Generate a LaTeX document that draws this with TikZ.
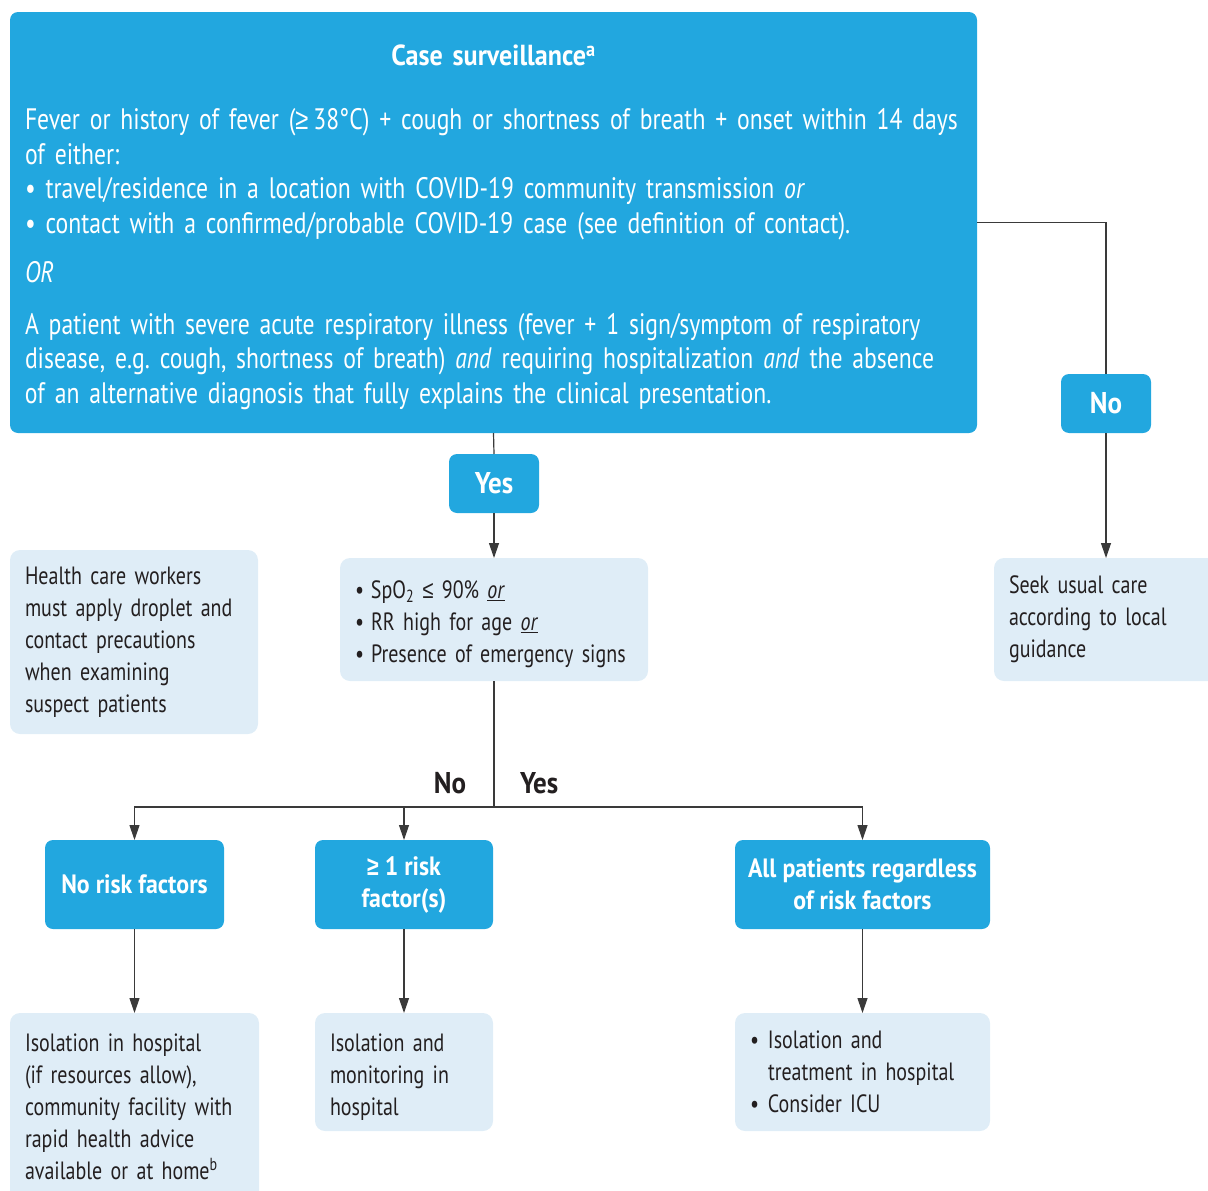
\documentclass[tikz,border=0pt]{standalone}
\usepackage{fontspec}
\setmainfont{PT Sans}[FakeStretch=0.80, BoldFeatures={FakeStretch=0.90}]
\newfontfamily\symfont{Liberation Sans}[FakeStretch=0.80]
\usepackage{tikz}
\usetikzlibrary{arrows.meta,positioning}
\definecolor{caseblue}{HTML}{22A7DF}
\definecolor{palebox}{HTML}{DFEDF7}
\definecolor{inkdark}{HTML}{231F20}
\definecolor{linegray}{HTML}{3A3A3A}
\newcommand{\bul}{\makebox[16pt][l]{\textbullet}}
\newcommand{\bulgap}{\hspace*{18pt}}
\newcommand{\geqsym}{{\symfont ≥}}
\newcommand{\leqsym}{{\symfont ≤}}
\frenchspacing

\begin{document}
\begin{tikzpicture}[
  x=1pt, y=-1pt,
  every node/.style={inner sep=0pt, outer sep=0pt},
  big/.style={fill=caseblue, text=white, rounded corners=8pt, align=left,
              inner xsep=15pt, font=\fontsize{29.6}{34.5}\selectfont},
  head/.style={fill=caseblue, text=white, rounded corners=8pt, align=center,
               font=\bfseries\fontsize{26.5}{32}\selectfont},
  pale/.style={fill=palebox, text=inkdark, rounded corners=10pt, align=left,
               inner xsep=15pt, font=\fontsize{25}{32}\selectfont},
  lbl/.style={text=inkdark, font=\bfseries\fontsize{30}{34}\selectfont},
  ln/.style={line width=1.2pt, draw=linegray},
  arr/.style={ln, -{Triangle[length=15pt, width=10pt]}},
]
  \useasboundingbox (0,0) rectangle (1208,1191);

  % top: case definition
  \node[big, text width=937pt, minimum height=421pt] (surv) at (493.5,222.5) {%
    \makebox[\linewidth][c]{\rule{0pt}{30pt}\bfseries\fontsize{29}{34.5}\selectfont Case surveillance\textsuperscript{a}}\\[30pt]
    Fever or history of fever (\geqsym\,38°C) + cough or shortness of breath + onset within 14 days\\
    of either:\\
    \textbullet\ travel/residence in a location with COVID-19 community transmission \textit{or}\\
    \textbullet\ contact with a confirmed/probable COVID-19 case (see definition of contact).\\[14.5pt]
    \textit{OR}\\[17.5pt]
    A patient with severe acute respiratory illness (fever + 1 sign/symptom of respiratory\\
    disease, e.g. cough, shortness of breath) \textit{and} requiring hospitalization \textit{and} the absence\\
    of an alternative diagnosis that fully explains the clinical presentation.};

  \node[head, minimum width=90pt, minimum height=59pt, font=\bfseries\fontsize{30}{34}\selectfont] (yes) at (494,483.5) {Yes};
  \node[head, minimum width=90pt, minimum height=59pt, font=\bfseries\fontsize{30}{34}\selectfont] (no) at (1106,403.5) {No};

  % middle row
  \node[pale, text width=218pt, minimum height=184pt] (note) at (134,642) {%
    Health care workers\\ must apply droplet and\\ contact precautions\\ when examining\\ suspect patients};
  \node[pale, text width=278pt, minimum height=123pt] (crit) at (494,619.5) {%
    \rule{0pt}{28pt}\bul SpO\textsubscript{2} \leqsym\ 90\% \underline{\textit{or}}\\
    \bul RR high for age \underline{\textit{or}}\\
    \bul Presence of emergency signs};
  \node[pale, text width=196pt, minimum height=123pt] (seek) at (1107,619.5) {%
    Seek usual care\\ according to local\\ guidance};

  \node[lbl, anchor=east] (nolbl) at (466,783) {No};
  \node[lbl, anchor=west] (yeslbl) at (520,783) {Yes};
  \coordinate (split) at (494,807);

  % risk groups
  \node[head, minimum width=179pt, minimum height=89pt] (norisk) at (134.5,884.5) {No risk factors};
  \node[head, minimum width=178pt, minimum height=89pt] (onerisk) at (404,884.5) {\geqsym\ 1 risk\\ factor(s)};
  \node[head, minimum width=255pt, minimum height=89pt] (allpat) at (862.5,884.5) {All patients regardless\\ of risk factors};

  % outcomes
  \node[pale, text width=219pt, minimum height=188pt] (homecare) at (134.5,1107) {%
    Isolation in hospital\\ (if resources allow),\\ community facility with\\ rapid health advice\\ available or at home\textsuperscript{b}};
  \node[pale, text width=148pt, minimum height=118pt] (monitor) at (404,1072) {%
    \rule{0pt}{28pt}Isolation and\\ monitoring in\\ hospital};
  \node[pale, text width=225pt, minimum height=118pt] (treat) at (862.5,1072) {%
    \makebox[18pt][l]{\textbullet}Isolation and\\ \bulgap treatment in hospital\\ \makebox[18pt][l]{\textbullet}Consider ICU};

  \draw[ln] (surv.east) -| (no.north);
  \draw[arr] (no.south) -- (seek.north -| no.south);
  \draw[ln] (surv.south) -- (yes.north);
  \draw[arr] (yes) -- (crit);
  \draw[ln] (crit.south) -- (split);
  \draw[arr] (split) -| (norisk.north);
  \draw[arr] (split) -| (onerisk.north);
  \draw[arr] (split) -| (allpat.north);
  \draw[arr] (norisk) -- (homecare);
  \draw[arr] (onerisk) -- (monitor);
  \draw[arr] (allpat) -- (treat);
\end{tikzpicture}
\end{document}
